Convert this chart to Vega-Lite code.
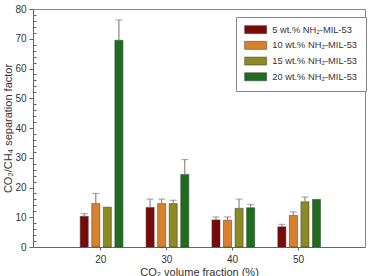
{
  "$schema": "https://vega.github.io/schema/vega-lite/v6.json",
  "autosize": {"type": "none"},
  "padding": {"left": 33, "top": 9, "right": 3, "bottom": 29},
  "width": 332,
  "height": 238,
  "config": {
    "font": "Liberation Sans",
    "view": {"stroke": "#888", "strokeWidth": 1},
    "axis": {"labelColor": "#333", "titleColor": "#333", "domainColor": "#666", "tickColor": "#666", "labelFontSize": 10, "titleFontSize": 11, "titleFontWeight": "normal", "grid": false}
  },
  "data": {"values": [
    {"co2": "20", "series": "5 wt.% NH₂-MIL-53", "value": 10.3, "upper": 11.2},
    {"co2": "20", "series": "10 wt.% NH₂-MIL-53", "value": 14.6, "upper": 18.0},
    {"co2": "20", "series": "15 wt.% NH₂-MIL-53", "value": 13.4, "upper": null},
    {"co2": "20", "series": "20 wt.% NH₂-MIL-53", "value": 69.5, "upper": 76.3},
    {"co2": "30", "series": "5 wt.% NH₂-MIL-53", "value": 13.3, "upper": 16.1},
    {"co2": "30", "series": "10 wt.% NH₂-MIL-53", "value": 14.6, "upper": 16.1},
    {"co2": "30", "series": "15 wt.% NH₂-MIL-53", "value": 14.6, "upper": 15.7},
    {"co2": "30", "series": "20 wt.% NH₂-MIL-53", "value": 24.4, "upper": 29.4},
    {"co2": "40", "series": "5 wt.% NH₂-MIL-53", "value": 9.1, "upper": 10.1},
    {"co2": "40", "series": "10 wt.% NH₂-MIL-53", "value": 9.0, "upper": 10.1},
    {"co2": "40", "series": "15 wt.% NH₂-MIL-53", "value": 13.0, "upper": 16.1},
    {"co2": "40", "series": "20 wt.% NH₂-MIL-53", "value": 13.2, "upper": 14.3},
    {"co2": "50", "series": "5 wt.% NH₂-MIL-53", "value": 6.8, "upper": 7.6},
    {"co2": "50", "series": "10 wt.% NH₂-MIL-53", "value": 10.6, "upper": 11.8},
    {"co2": "50", "series": "15 wt.% NH₂-MIL-53", "value": 15.2, "upper": 16.8},
    {"co2": "50", "series": "20 wt.% NH₂-MIL-53", "value": 16.0, "upper": null}
  ]},
  "encoding": {
    "x": {"field": "co2", "type": "ordinal", "sort": ["20", "30", "40", "50"],
      "scale": {"paddingInner": 0, "paddingOuter": 0.52, "align": 0.51},
      "axis": {"title": "CO₂ volume fraction (%)", "labelAngle": 0, "tickSize": 3, "labelPadding": 4, "titlePadding": 2}},
    "xOffset": {"field": "series", "type": "nominal",
      "sort": ["5 wt.% NH₂-MIL-53", "10 wt.% NH₂-MIL-53", "15 wt.% NH₂-MIL-53", "20 wt.% NH₂-MIL-53"],
      "scale": {"paddingInner": 0.3, "paddingOuter": 1.445, "align": 0.53}}
  },
  "layer": [
    {
      "mark": {"type": "bar", "stroke": "#3a3a3a", "strokeWidth": 0.5},
      "encoding": {
        "y": {"field": "value", "type": "quantitative",
          "scale": {"domain": [0, 80], "nice": false},
          "axis": {"title": "CO₂/CH₄ separation factor", "orient": "left", "values": [0, 10, 20, 30, 40, 50, 60, 70, 80], "tickSize": 4, "labelPadding": 3, "titlePadding": 1}},
        "fill": {"field": "series", "type": "nominal",
          "sort": ["5 wt.% NH₂-MIL-53", "10 wt.% NH₂-MIL-53", "15 wt.% NH₂-MIL-53", "20 wt.% NH₂-MIL-53"],
          "scale": {"range": ["#7a0a0a", "#d9802c", "#8c8a22", "#1f6e1f"]},
          "legend": {"title": null, "orient": "none", "legendX": 203, "legendY": 8,
            "symbolType": "M-1,-1H4.5V1H-1Z", "symbolSize": 64, "symbolStrokeColor": "#3a3a3a", "symbolStrokeWidth": 0.5,
            "labelFontSize": 9.3, "labelColor": "#333", "rowPadding": 4.7, "padding": 8,
            "strokeColor": "#888", "fillColor": "white", "labelOffset": 19}}
      }
    },
    {
      "mark": {"type": "rule", "color": "#888", "strokeWidth": 1.2},
      "transform": [{"filter": "datum.upper != null"}],
      "encoding": {
        "y": {"field": "value", "type": "quantitative", "axis": null},
        "y2": {"field": "upper"}
      }
    },
    {
      "mark": {"type": "tick", "color": "#888", "size": 7, "thickness": 1.2},
      "transform": [{"filter": "datum.upper != null"}],
      "encoding": {
        "y": {"field": "upper", "type": "quantitative", "axis": null}
      }
    },
    {
      "mark": {"type": "rule", "opacity": 0},
      "encoding": {
        "y": {"field": "value", "type": "quantitative",
          "axis": {"title": null, "orient": "left", "values": [2,4,6,8,12,14,16,18,22,24,26,28,32,34,36,38,42,44,46,48,52,54,56,58,62,64,66,68,72,74,76,78], "labels": false, "domain": false, "tickSize": -3}}
      }
    }
  ],
  "resolve": {"axis": {"y": "independent"}}
}
